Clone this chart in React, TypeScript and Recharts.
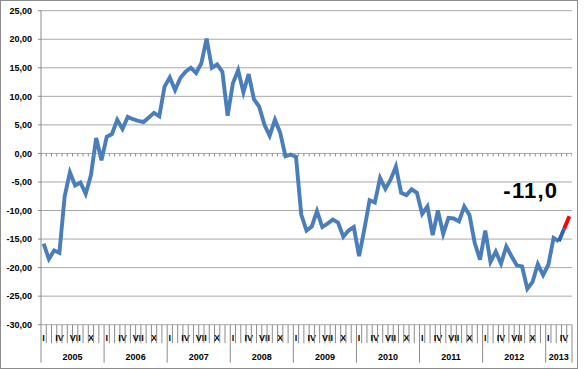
import React from 'react';
import { ComposedChart, Line, XAxis, YAxis, CartesianGrid, Scatter } from 'recharts';

const years = ['2005', '2006', '2007', '2008', '2009', '2010', '2011', '2012', '2013'];
const monthLabels = ['I', 'IV', 'VII', 'X'];
const v2005 = [-15.8, -18.5, -17.0, -17.4, -7.5, -3.3, -5.6, -5.1, -7.1, -3.8, 2.7, -1.2];
const v2006 = [2.9, 3.4, 5.9, 4.3, 6.4, 6.0, 5.7, 5.5, 6.3, 7.1, 6.5, 11.7];
const v2007 = [13.3, 11.1, 13.2, 14.3, 15.0, 14.1, 15.8, 20.1, 15.0, 15.6, 14.3, 6.6];
const v2008 = [12.3, 14.6, 10.7, 13.9, 9.5, 8.2, 5.0, 3.1, 5.9, 3.6, -0.5, -0.2];
const v2009 = [-0.6, -10.7, -13.5, -12.8, -10.1, -12.9, -12.3, -11.6, -12.1, -14.6, -13.5, -12.9];
const v2010 = [-18.0, -13.3, -8.2, -8.6, -4.3, -6.2, -4.6, -2.3, -6.9, -7.3, -6.3, -6.9];
const v2011 = [-10.6, -9.3, -14.3, -10.0, -14.1, -11.3, -11.4, -11.9, -9.3, -10.8, -15.7, -18.6];
const v2012 = [-13.5, -19.0, -17.2, -19.3, -16.3, -18.0, -19.6, -19.8, -23.7, -22.5, -19.4, -21.3];
const v2013 = [-19.5, -14.8, -15.4, -13.2, -11.0];
const yTicks = [-30, -25, -20, -15, -10, -5, 0, 5, 10, 15, 20, 25];
const lastLabel = '-11,0';

const values = [...v2005, ...v2006, ...v2007, ...v2008, ...v2009, ...v2010, ...v2011, ...v2012, ...v2013];
const N = values.length;

const W = 585;
const H = 369;
const YW = 41;
const MR = 13;
const MT = 10.7;
const XH = 44.3;
const MW = (W - YW - MR) / N;

const AXIS = '#8c8c8c';
const GRID = '#a9a9a9';
const BLUE = '#4a7ebb';
const DARKBLUE = '#2a62bd';
const RED = '#ff0000';
const FONT = '"Liberation Sans", Arial, sans-serif';
const LW = 3.9;

const data = values.map((v, i) => ({
  x: i + 0.5,
  v: i <= N - 3 ? v : null,
  d: i >= N - 3 && i <= N - 2 ? v : null,
  r: i >= N - 2 ? v : null,
}));

const boundaries = Array.from({ length: N + 1 }, (_, k) => k);
const zeroTicks = boundaries.map((k) => ({ x: k, y: 0 }));

const fmt = (v: number) => v.toFixed(2).replace('.', ',');

const XTick = (props: any) => {
  const { x, y, payload } = props;
  const k = payload.value as number;
  const isYear = k % 12 === 0 || k === N;
  const els: any[] = [
    <line key="l" x1={x} x2={x} y1={y} y2={y + (isYear ? 38 : 18.5)} stroke={AXIS} strokeWidth={1} />,
  ];
  if (k < N && k % 3 === 0) {
    els.push(
      <text key="m" x={x + MW / 2} y={y + 16} textAnchor="middle" fontSize={9} fontWeight="bold" fill="#000" fontFamily={FONT}>
        {monthLabels[(k % 12) / 3]}
      </text>
    );
  }
  if (k < N && k % 12 === 0) {
    const span = Math.min(12, N - k);
    els.push(
      <text key="y" x={x + (span * MW) / 2} y={y + 35.5} textAnchor="middle" fontSize={9} fontWeight="bold" fill="#000" fontFamily={FONT}>
        {years[k / 12]}
      </text>
    );
  }
  return <g>{els}</g>;
};

const ZeroTick = (props: any) => {
  const { cx, cy } = props;
  return <line x1={cx} x2={cx} y1={cy} y2={cy + 3} stroke={AXIS} strokeWidth={1} />;
};

const LastLabel = (props: any) => {
  const { x, y, index } = props;
  if (index !== N - 1) return <g />;
  return (
    <text x={x - 66} y={y - 18.5} fontSize={22} fontWeight="bold" fill="#000" fontFamily={FONT} letterSpacing={1.2}>
      {lastLabel}
    </text>
  );
};

export default function App() {
  return (
    <div style={{ position: 'fixed', left: 0, top: 0, width: W, height: H, background: '#fff' }}>
      <div
        style={{
          position: 'absolute',
          left: 0,
          top: 0,
          width: 578,
          height: H,
          border: `1px solid ${AXIS}`,
          boxSizing: 'border-box',
        }}
      />
      <div style={{ position: 'absolute', left: 0, top: 0 }}>
        <ComposedChart width={W} height={H} data={data} margin={{ top: MT, right: MR, left: 0, bottom: 0 }} style={{ fontFamily: FONT }}>
          <CartesianGrid horizontal vertical={false} stroke={GRID} />
          <XAxis
            dataKey="x"
            type="number"
            domain={[0, N]}
            ticks={boundaries}
            interval={0}
            height={XH}
            axisLine={false}
            tickLine={false}
            tickSize={0}
            tickMargin={0}
            tick={<XTick />}
            allowDataOverflow
          />
          <YAxis
            domain={[-30, 25]}
            ticks={yTicks}
            interval={0}
            width={YW}
            tickSize={3}
            tickMargin={6}
            axisLine={{ stroke: AXIS }}
            tickLine={{ stroke: AXIS }}
            tick={{ fontSize: 9, fontWeight: 'bold', fill: '#000', fontFamily: FONT }}
            tickFormatter={fmt}
            allowDataOverflow
          />
          <Scatter data={zeroTicks} dataKey="y" shape={<ZeroTick />} isAnimationActive={false} />
          <Line type="linear" dataKey="v" stroke={BLUE} strokeWidth={LW} dot={false} activeDot={false} isAnimationActive={false} />
          <Line type="linear" dataKey="d" stroke={DARKBLUE} strokeWidth={LW} dot={false} activeDot={false} isAnimationActive={false} />
          <Line
            type="linear"
            dataKey="r"
            stroke={RED}
            strokeWidth={LW}
            dot={false}
            activeDot={false}
            isAnimationActive={false}
            label={<LastLabel />}
          />
        </ComposedChart>
      </div>
    </div>
  );
}
